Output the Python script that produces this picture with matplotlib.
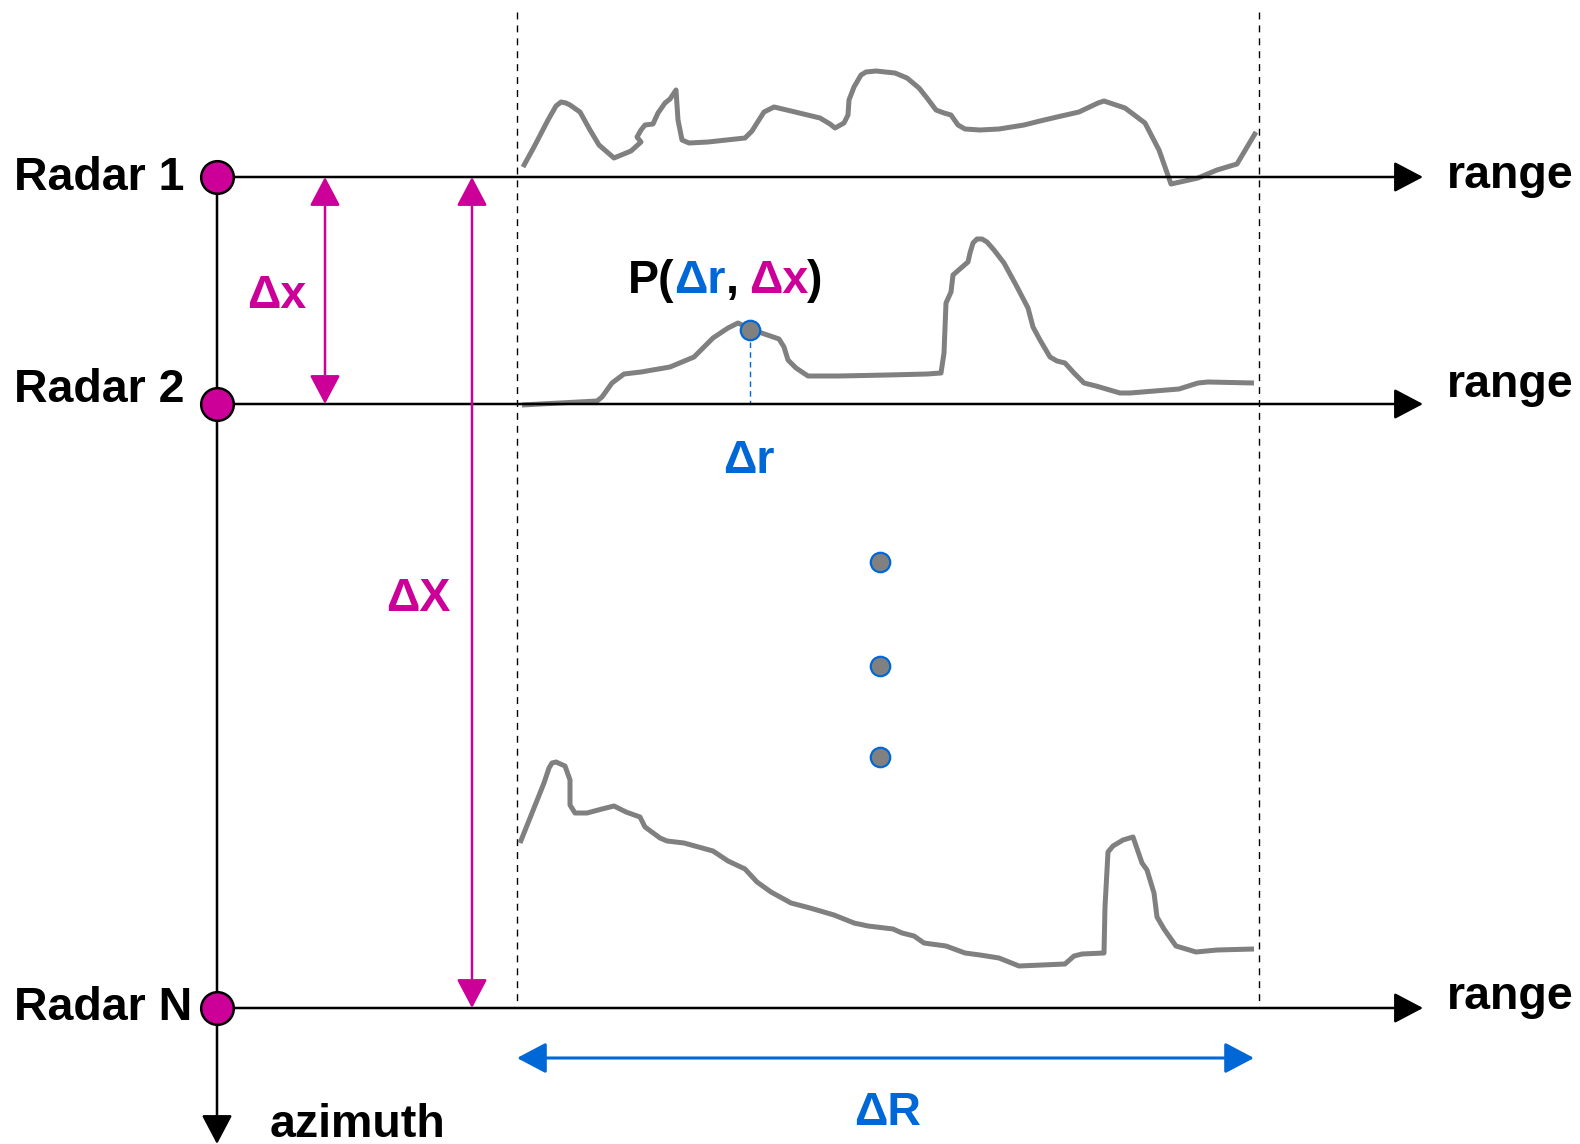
import matplotlib
matplotlib.use('Agg')
import matplotlib.pyplot as plt
from matplotlib.patches import FancyArrowPatch

# diagram coordinates are in pixels of the 1580x1144 canvas (y grows downward)
radar_names = ['Radar 1', 'Radar 2', 'Radar N']
radar_y = [177, 404, 1008]
radar_x = 217
label_baselines = [190, 402, 1020]
range_baselines = [188, 397, 1009]

# echo profiles above each range line
prof1_x = [523, 534, 548, 556, 561, 566, 570, 580, 590, 599, 614, 631, 641, 637, 641, 645, 653, 658,
           665, 670, 676, 678, 682, 689, 708, 745, 752, 757, 764, 774, 791, 820, 830, 835, 844, 848,
           849, 854, 861, 866, 876, 895, 907, 919, 927, 936, 944, 951, 958, 965, 980, 999, 1024,
           1040, 1057, 1079, 1098, 1104, 1110, 1125, 1145, 1159, 1171, 1198, 1217, 1237, 1256]
prof1_y = [167, 147, 120, 106, 102, 103, 105, 112, 130, 145, 158, 151, 142, 137, 130, 125, 124, 113,
           103, 99, 90, 120, 140, 143, 142, 138, 131, 123, 112, 107, 111, 118, 124, 128, 123, 115,
           100, 87, 75, 72, 71, 73, 78, 88, 98, 110, 113, 115, 125, 129, 130, 129, 125,
           121, 117, 112, 103, 101, 103, 108, 123, 150, 184, 178, 170, 164, 132]

prof2_x = [522, 597, 602, 612, 624, 641, 670, 694, 704, 713, 728, 738, 750, 779, 784, 788, 796, 808,
           839, 888, 927, 941, 944, 946, 951, 953, 961, 968, 970, 973, 977, 982, 987, 994, 1004,
           1016, 1028, 1033, 1040, 1050, 1057, 1065, 1074, 1084, 1096, 1120, 1130, 1179, 1198, 1208,
           1254]
prof2_y = [405, 401, 397, 383, 374, 372, 367, 357, 347, 338, 328, 323, 329, 339, 347, 360, 368, 376,
           376, 375, 374, 373, 353, 303, 292, 275, 268, 262, 253, 243, 239, 239, 242, 250, 263,
           285, 308, 327, 340, 357, 361, 363, 373, 383, 386, 393, 393, 389, 383, 382,
           383]

prof3_x = [520, 532, 544, 549, 552, 556, 565, 570, 570, 575, 587, 602, 614, 626, 640, 645, 660, 667,
           684, 713, 728, 745, 757, 771, 791, 810, 834, 854, 868, 893, 902, 914, 924, 931, 946, 965,
           980, 999, 1019, 1065, 1074, 1082, 1104, 1105, 1108, 1113, 1123, 1133, 1142, 1147, 1154,
           1157, 1164, 1171, 1176, 1196, 1217, 1254]
prof3_y = [843, 813, 783, 768, 763, 762, 766, 780, 805, 813, 813, 809, 806, 812, 817, 827, 838, 841,
           843, 851, 861, 869, 882, 892, 903, 908, 915, 923, 926, 929, 933, 936, 943, 944, 946, 953,
           955, 958, 966, 964, 956, 954, 953, 907, 852, 846, 840, 837, 863, 870, 893,
           917, 929, 939, 946, 952, 950, 949]

# selected point P and the remaining samples
p_x, p_y = 750, 330
dots_x = [880, 880, 880]
dots_y = [562, 666, 757]

x_left, x_right = 517, 1259      # range window
arrow_end = 1423

magenta = '#CC0099'
blue = '#0068D6'
gray = '#808080'
font = 'Liberation Sans'
fs = 33.5

fig = plt.figure(figsize=(15.8, 11.44), dpi=100)
ax = fig.add_axes([0, 0, 1, 1])
ax.set_xlim(0, 1580)
ax.set_ylim(1144, 0)
ax.axis('off')
renderer = fig.canvas.get_renderer()


def arrow(x0, y0, x1, y1, color, style='-|>', lw=1.8, hl=18, hw=9.5):
    a = FancyArrowPatch((x0, y0), (x1, y1),
                        arrowstyle=f'{style},head_length={hl},head_width={hw}',
                        mutation_scale=1, color=color, lw=lw,
                        shrinkA=0, shrinkB=0, zorder=3)
    ax.add_patch(a)


def text_width(s):
    t = ax.text(0, 0, s, fontsize=fs, fontweight='bold', family=font)
    w = t.get_window_extent(renderer).width
    t.remove()
    return w


# window borders
for xv in [x_left, x_right]:
    ax.plot([xv, xv], [12, radar_y[2]], color='black', lw=1.0,
            linestyle=(0, (5, 4.3)), zorder=1)

# range lines with arrows and labels
for yv, base in zip(radar_y, range_baselines):
    arrow(radar_x, yv, arrow_end, yv, 'black')
    ax.text(1447, base, 'range', fontsize=fs, fontweight='bold', family=font,
            ha='left', va='baseline')

# azimuth axis
arrow(radar_x, radar_y[0], radar_x, 1144, 'black')
ax.text(270, 1137, 'azimuth', fontsize=fs, fontweight='bold', family=font,
        ha='left', va='baseline')

# radar names
for name, base in zip(radar_names, label_baselines):
    ax.text(14, base, name, fontsize=fs, fontweight='bold', family=font,
            ha='left', va='baseline')

# profiles
for xs, ys in [(prof1_x, prof1_y), (prof2_x, prof2_y), (prof3_x, prof3_y)]:
    ax.plot(xs, ys, color=gray, lw=3.6, solid_joinstyle='round',
            solid_capstyle='butt', zorder=2)

# delta x and delta X
arrow(325, radar_y[0], 325, radar_y[1], magenta, style='<|-|>')
ax.text(277, 308, 'Δx', fontsize=fs, fontweight='bold', family=font,
        color=magenta, ha='center', va='baseline')
arrow(472, radar_y[0], 472, radar_y[2], magenta, style='<|-|>')
ax.text(418, 611, 'ΔX', fontsize=fs, fontweight='bold', family=font,
        color=magenta, ha='center', va='baseline')

# delta R
arrow(x_left, 1058, 1254, 1058, blue, style='<|-|>', lw=2.2)
ax.text(888, 1125, 'ΔR', fontsize=fs, fontweight='bold', family=font,
        color=blue, ha='center', va='baseline')

# point P with its range offset
ax.plot([p_x, p_x], [p_y + 12, radar_y[1]], color=blue, lw=1.0,
        linestyle=(0, (4, 3)), zorder=2)
ax.text(749, 473, 'Δr', fontsize=fs, fontweight='bold', family=font,
        color=blue, ha='center', va='baseline')

parts = [('P(', 'black'), ('Δr', blue), (', ', 'black'), ('Δx', magenta), (')', 'black')]
w_ref = text_width('I')
prefix = ''
for s, c in parts:
    xp = 628 + (text_width(prefix + 'I') - w_ref if prefix else 0)
    ax.text(xp, 293, s, fontsize=fs, fontweight='bold', family=font,
            color=c, ha='left', va='baseline')
    prefix += s

ax.plot([p_x] + dots_x, [p_y] + dots_y, linestyle='none', marker='o', ms=14,
        mfc=gray, mec=blue, mew=1.6, zorder=4)

# radar positions
ax.plot([radar_x] * 3, radar_y, linestyle='none', marker='o', ms=23.5,
        mfc=magenta, mec='black', mew=1.8, zorder=5)

fig.savefig('out.png', dpi=100)
